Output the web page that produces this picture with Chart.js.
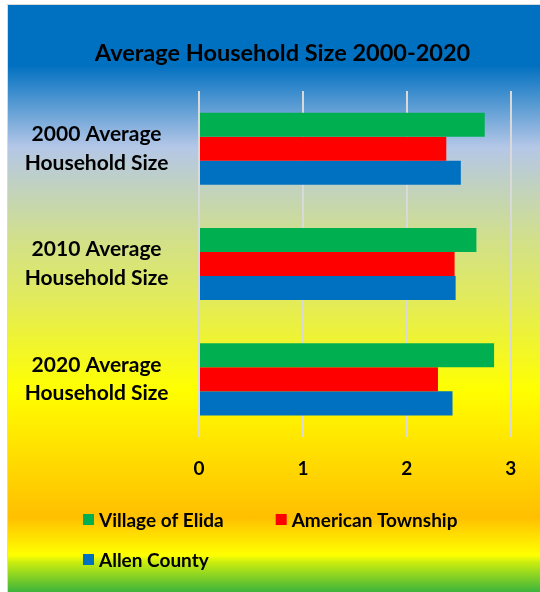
<!DOCTYPE html>
<html>
<head>
<meta charset="utf-8">
<script src="https://cdn.jsdelivr.net/npm/chart.js@4"></script>
<style>
  html, body { margin: 0; padding: 0; background: #ffffff; }
  #wrap {
    position: absolute; left: 7px; top: 4px; width: 532px; height: 587px;
    border-left: 1px solid #d9d9d9; border-top: 1px solid #d9d9d9;
    background: linear-gradient(to bottom,
      #0070C0 0%, #0070C0 10.2%, #B4C7E7 24.2%, #D2E08A 40%, #E2EB5A 50.3%,
      #FFFF00 65.6%, #FFBF00 87.2%, #FFFF00 93.7%, #C8EC10 95%, #3CB43C 100%);
  }
  canvas { display: block; }
</style>
</head>
<body>
<div id="wrap"><canvas id="c" width="532" height="587"></canvas></div>
<script>
const categories = [
  ['2000 Average', 'Household Size'],
  ['2010 Average', 'Household Size'],
  ['2020 Average', 'Household Size']
];
const seriesNames = ['Village of Elida', 'American Township', 'Allen County'];
const elida = [2.75, 2.67, 2.84];
const american = [2.38, 2.46, 2.30];
const allen = [2.52, 2.47, 2.44];
const xTicks = [0, 1, 2, 3];
const colors = ['#00B050', '#FF0000', '#0070C0'];

const FONT = 'Lato, "Open Sans", sans-serif';

const customLegend = {
  id: 'customLegend',
  afterDraw(chart) {
    const ctx = chart.ctx;
    const ds = chart.data.datasets;
    ctx.save();
    ctx.font = 'bold 19px ' + FONT;
    ctx.textBaseline = 'middle';
    ctx.textAlign = 'left';
    const rows = [[0, 1], [2]];
    const rowY = [514.5, 554.5];
    rows.forEach((row, r) => {
      let x = 75;
      row.forEach(i => {
        ctx.fillStyle = ds[i].backgroundColor;
        ctx.fillRect(x, rowY[r] - 5.5, 11, 11);
        ctx.fillStyle = '#000000';
        ctx.fillText(ds[i].label, x + 16, rowY[r] + 1);
        x += 16 + ctx.measureText(ds[i].label).width + 52;
      });
    });
    ctx.restore();
  }
};

new Chart(document.getElementById('c'), {
  type: 'bar',
  data: {
    labels: categories,
    datasets: [
      { label: seriesNames[0], data: elida, backgroundColor: colors[0] },
      { label: seriesNames[1], data: american, backgroundColor: colors[1] },
      { label: seriesNames[2], data: allen, backgroundColor: colors[2] }
    ]
  },
  plugins: [customLegend],
  options: {
    indexAxis: 'y',
    responsive: false,
    animation: false,
    devicePixelRatio: 1,
    datasets: { bar: { categoryPercentage: 0.625, barPercentage: 1.0 } },
    layout: { padding: { left: 17, right: 0, top: 0, bottom: 95 } },
    plugins: {
      legend: { display: false },
      tooltip: { enabled: false },
      title: {
        display: true,
        text: 'Average Household Size 2000-2020',
        color: '#000000',
        font: { family: FONT, size: 23.5, weight: 'bold', lineHeight: 1.2 },
        padding: { top: 34, bottom: 23.8 }
      }
    },
    scales: {
      x: {
        type: 'linear',
        min: 0, max: 3,
        afterBuildTicks(s) { s.ticks = xTicks.map(v => ({ value: v })); },
        afterFit(s) { s.height = 60; },
        grid: { color: '#D9D9D9', lineWidth: 2, drawTicks: false },
        border: { display: false },
        ticks: {
          padding: 20,
          color: '#000000',
          font: { family: FONT, size: 19, weight: 'bold', lineHeight: 1.2 }
        }
      },
      y: {
        type: 'category',
        afterFit(s) { s.width = 174; },
        grid: { display: false, drawTicks: false },
        border: { display: false },
        ticks: {
          crossAlign: 'center',
          padding: 30.5,
          color: '#000000',
          font: { family: FONT, size: 21, weight: 'bold', lineHeight: 1.36 }
        }
      },
      y2: {
        type: 'category',
        axis: 'y',
        position: 'right',
        afterFit(s) { s.width = 29.3; },
        grid: { display: false, drawTicks: false },
        border: { display: false },
        ticks: { display: false }
      }
    }
  }
});
</script>
</body>
</html>
